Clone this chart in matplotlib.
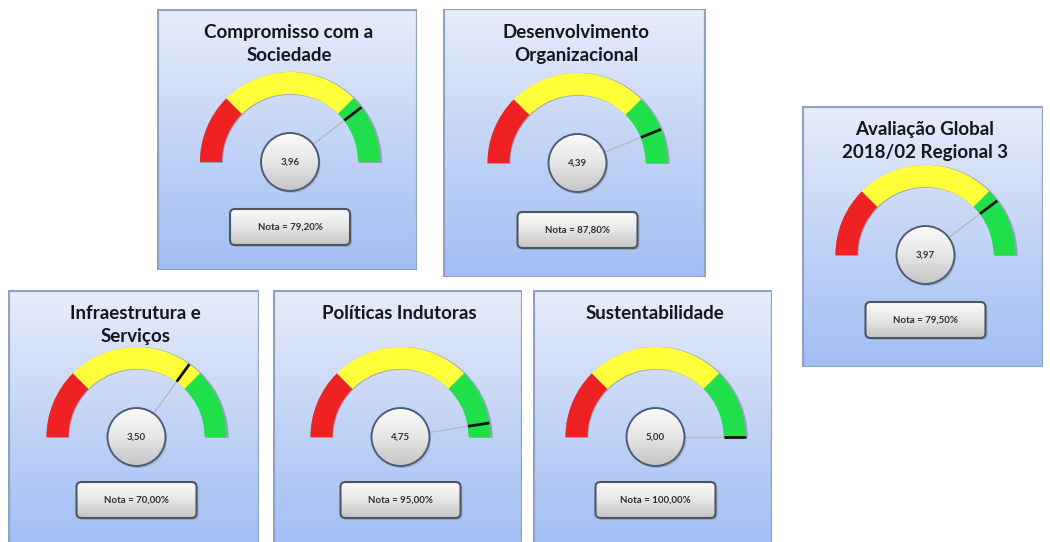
import numpy as np
import matplotlib
matplotlib.use('Agg')
import matplotlib.pyplot as plt
from matplotlib.patches import Wedge, Circle, Rectangle, FancyBboxPatch
from matplotlib.colors import LinearSegmentedColormap

# gauge data
titles = ['Compromisso com a\nSociedade',
          'Desenvolvimento\nOrganizacional',
          'Avaliação Global\n2018/02 Regional 3',
          'Infraestrutura e\nServiços',
          'Políticas Indutoras',
          'Sustentabilidade']
values = [3.96, 4.39, 3.97, 3.50, 4.75, 5.00]
notas = [79.20, 87.80, 79.50, 70.00, 95.00, 100.00]
scale_max = 5.0
band_limits = [0.0, 1.25, 3.75, 5.0]
band_colors = ['#ee2222', '#ffff3a', '#1fe04a']

# panel layout in pixels: left, top, right, bottom, gauge centre below top, nota below top
panels = [(157, 9, 417, 270, 153, 218),
          (443, 9, 706, 277, 154, 221),
          (802, 106, 1043, 367, 149, 214),
          (8, 290, 259, 548, 147, 210),
          (273, 290, 522, 548, 147, 210),
          (533, 290, 772, 548, 147, 210)]

W, H = 1050, 542
fig = plt.figure(figsize=(W / 100, H / 100), dpi=100)
fig.patch.set_facecolor('white')

bg_cmap = LinearSegmentedColormap.from_list('bg', ['#a2bef4', '#c3d4f6', '#e8edf9'])
knob_cmap = LinearSegmentedColormap.from_list('knob', ['#c4c4c4', '#e6e6e6', '#fbfbfb'])
grad = np.linspace(0, 1, 256).reshape(-1, 1)

R = 90
band_w = 22

for i, (l, t, r, b, gy, ny) in enumerate(panels):
    w, h = r - l, b - t
    ax = fig.add_axes([l / W, 1 - b / H, w / W, h / H])
    ax.set_xlim(0, w)
    ax.set_ylim(0, h)
    ax.axis('off')

    # panel background + frame
    ax.imshow(grad, extent=[0, w, 0, h], origin='lower', cmap=bg_cmap,
              aspect='auto', zorder=0)
    ax.add_patch(Rectangle((0.5, 0.5), w - 1, h - 1, fill=False,
                           edgecolor='#8ea2c4', lw=1.6, zorder=1))

    ax.text(w / 2 + 2, h - 15, titles[i], ha='center', va='top',
            fontsize=13.5, fontweight='bold', family='Lato',
            color='#16161e', linespacing=1.45, zorder=5)

    cx, cy = w / 2 + 3, h - gy

    # coloured bands
    for k in range(3):
        a1 = 180 - band_limits[k + 1] / scale_max * 180
        a2 = 180 - band_limits[k] / scale_max * 180
        ax.add_patch(Wedge((cx + 1, cy - 1), R + 1.2, a1, a2, width=band_w + 1,
                           facecolor='#6d7588', edgecolor='none', alpha=0.5, zorder=2))
        ax.add_patch(Wedge((cx, cy), R, a1, a2, width=band_w,
                           facecolor=band_colors[k], edgecolor='none', zorder=3))

    # needle
    th = np.pi * (1 - values[i] / scale_max)
    ax.plot([cx, cx + R * np.cos(th)], [cy, cy + R * np.sin(th)],
            color='#b4b9c0', lw=1.0, zorder=4, solid_capstyle='butt')
    ax.plot([cx + 0.76 * R * np.cos(th), cx + R * np.cos(th)],
            [cy + 0.76 * R * np.sin(th), cy + R * np.sin(th)],
            color='#111111', lw=2.0, zorder=4, solid_capstyle='butt')

    # centre knob
    ax.add_patch(Circle((cx + 1.5, cy - 2), 29, facecolor='#6f7890',
                        alpha=0.35, edgecolor='none', zorder=5))
    knob = Circle((cx, cy), 29, facecolor='none', edgecolor='#4d5d75',
                  lw=1.4, zorder=7)
    im = ax.imshow(grad, extent=[cx - 29, cx + 29, cy - 29, cy + 29],
                   origin='lower', cmap=knob_cmap, aspect='auto', zorder=6)
    im.set_clip_path(Circle((cx, cy), 29, transform=ax.transData))
    ax.add_patch(knob)
    ax.text(cx, cy, f'{values[i]:.2f}'.replace('.', ','), ha='center',
            va='center', fontsize=7, fontweight='bold', family='Lato',
            color='#333333', zorder=8)

    # nota box
    bw, bh = 120, 36
    by = h - ny
    ax.add_patch(FancyBboxPatch((cx - bw / 2 + 2, by - bh / 2 - 2), bw, bh,
                                boxstyle='round,pad=0,rounding_size=5',
                                facecolor='#6f7890', alpha=0.35,
                                edgecolor='none', zorder=5))
    box = FancyBboxPatch((cx - bw / 2, by - bh / 2), bw, bh,
                         boxstyle='round,pad=0,rounding_size=5',
                         facecolor='none', edgecolor='#4e555e', lw=1.5, zorder=7)
    ax.add_patch(box)
    im2 = ax.imshow(grad, extent=[cx - bw / 2, cx + bw / 2, by - bh / 2, by + bh / 2],
                    origin='lower', cmap=knob_cmap, aspect='auto', zorder=6)
    im2.set_clip_path(box)
    ax.text(cx, by, f'Nota = {notas[i]:.2f}%'.replace('.', ','), ha='center',
            va='center', fontsize=7, fontweight='bold', family='Lato',
            color='#2e2e2e', zorder=8)

fig.savefig('out.png', dpi=100, facecolor='white')
